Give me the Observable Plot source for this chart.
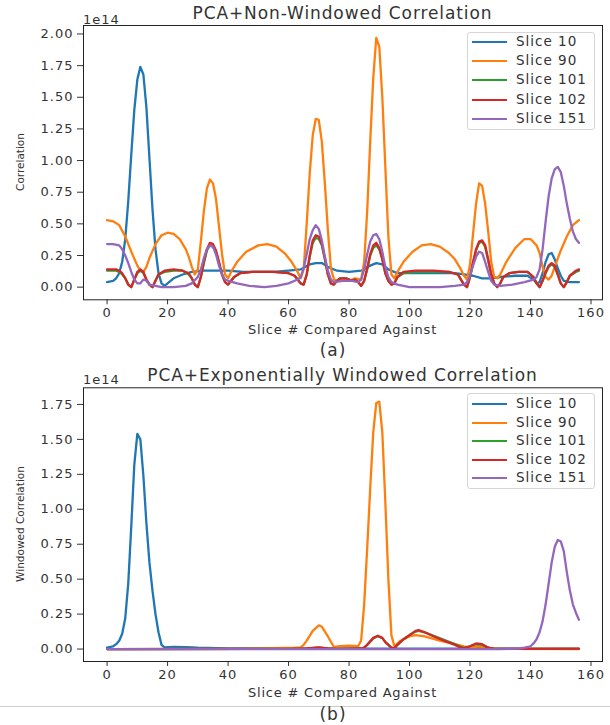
<!DOCTYPE html>
<html><head><meta charset="utf-8">
<script src="https://cdn.jsdelivr.net/npm/d3@7"></script>
<script src="https://cdn.jsdelivr.net/npm/@observablehq/plot@0.6"></script>
<style>
body{margin:0;background:#fff;font-family:"DejaVu Sans",sans-serif;}
#fig{position:relative;width:610px;height:725px;overflow:hidden;background:#fff}
#fig svg{position:absolute;left:0}
.t{position:absolute;white-space:nowrap;color:#333;line-height:1}
.leg{position:absolute;border:1px solid #d6d6d6;border-radius:3px;background:rgba(255,255,255,0.85);box-sizing:border-box}
.row{position:absolute;left:0;height:0}
.sw{position:absolute;left:4px;width:35px;height:2px;top:-1px}
.lt{position:absolute;left:48px;white-space:nowrap;color:#333;font-size:13.5px;letter-spacing:1px;transform:translateY(-50%);line-height:1}
</style></head><body><div id="fig"></div><script>
// ---- shared ----
const xTicks = [0, 20, 40, 60, 80, 100, 120, 140, 160];
const seriesNames = ["Slice 10", "Slice 90", "Slice 101", "Slice 102", "Slice 151"];
const seriesColors = ["#1f77b4", "#ff7f0e", "#2ca02c", "#d62728", "#9467bd"];
const topYTicks = [0, 0.25, 0.5, 0.75, 1.0, 1.25, 1.5, 1.75, 2.0];
const botYTicks = [0, 0.25, 0.5, 0.75, 1.0, 1.25, 1.5, 1.75];

// ---- (a) PCA+Non-Windowed Correlation (values x 1e14) ----
const topSlice10 = [[0,0.04],[2,0.05],[3,0.07],[4,0.11],[5,0.2],[6,0.38],[7,0.68],[8,1.05],[9,1.4],[10,1.64],[11,1.74],[12,1.68],[13,1.42],[14,1.02],[15,0.62],[16,0.3],[17,0.11],[18,0.03],[19,0.01],[20,0.03],[22,0.07],[25,0.1],[28,0.12],[32,0.13],[36,0.13],[40,0.13],[45,0.12],[50,0.12],[55,0.12],[60,0.13],[64,0.14],[67,0.18],[69,0.19],[71,0.19],[73,0.16],[76,0.13],[80,0.12],[84,0.13],[87,0.17],[89,0.19],[91,0.18],[93,0.14],[96,0.11],[100,0.11],[105,0.11],[110,0.11],[115,0.11],[118,0.1],[121,0.09],[124,0.07],[127,0.07],[130,0.08],[135,0.09],[139,0.09],[141,0.06],[142,0.03],[143,0.04],[144,0.11],[145,0.2],[146,0.26],[147,0.27],[148,0.22],[149,0.15],[150,0.09],[151,0.05],[153,0.04],[156,0.04]];
const topSlice90 = [[0,0.53],[2,0.52],[4,0.49],[6,0.4],[8,0.28],[10,0.17],[11,0.13],[12,0.12],[13,0.16],[14,0.23],[16,0.34],[18,0.41],[20,0.43],[22,0.42],[24,0.38],[26,0.3],[27,0.24],[28,0.16],[29,0.1],[30,0.14],[31,0.36],[32,0.6],[33,0.78],[34,0.85],[35,0.82],[36,0.7],[37,0.48],[38,0.26],[39,0.1],[40,0.07],[41,0.12],[43,0.2],[46,0.28],[50,0.33],[53,0.34],[56,0.32],[59,0.26],[61,0.2],[63,0.12],[64,0.07],[65,0.14],[66,0.5],[67,0.9],[68,1.2],[69,1.33],[70,1.32],[71,1.15],[72,0.82],[73,0.45],[74,0.15],[75,0.06],[76,0.05],[78,0.07],[80,0.05],[82,0.07],[84,0.06],[85,0.2],[86,0.6],[87,1.15],[88,1.65],[89,1.97],[90,1.9],[91,1.5],[92,0.95],[93,0.4],[94,0.1],[95,0.07],[96,0.12],[98,0.2],[101,0.28],[104,0.33],[107,0.34],[110,0.32],[113,0.27],[115,0.22],[117,0.14],[118,0.09],[119,0.06],[120,0.18],[121,0.42],[122,0.66],[123,0.82],[124,0.8],[125,0.66],[126,0.44],[127,0.2],[128,0.08],[129,0.07],[130,0.1],[132,0.2],[135,0.31],[138,0.38],[140,0.38],[142,0.33],[143,0.27],[144,0.16],[145,0.08],[146,0.06],[147,0.09],[148,0.16],[150,0.29],[152,0.4],[154,0.49],[156,0.53]];
const topSlice101 = [[0,0.13],[3,0.13],[4,0.12],[5,0.1],[6,0.07],[7,0.02],[8,0.0],[9,0.06],[10,0.11],[11,0.13],[12,0.11],[13,0.06],[14,0.02],[15,0.0],[16,0.05],[17,0.1],[19,0.12],[22,0.13],[25,0.13],[27,0.1],[28,0.07],[29,0.02],[30,0.0],[31,0.08],[32,0.19],[33,0.29],[34,0.33],[35,0.32],[36,0.28],[37,0.19],[38,0.1],[39,0.04],[40,0.02],[41,0.05],[42,0.08],[44,0.11],[48,0.12],[55,0.12],[60,0.11],[62,0.09],[63,0.06],[64,0.03],[65,0.02],[66,0.1],[67,0.24],[68,0.35],[69,0.39],[70,0.38],[71,0.33],[72,0.22],[73,0.1],[74,0.03],[75,0.02],[76,0.05],[77,0.07],[79,0.07],[81,0.05],[82,0.06],[83,0.04],[84,0.01],[85,0.05],[86,0.14],[87,0.25],[88,0.31],[89,0.33],[90,0.3],[91,0.22],[92,0.11],[93,0.05],[94,0.02],[95,0.03],[96,0.08],[98,0.11],[102,0.12],[108,0.12],[113,0.12],[116,0.1],[117,0.06],[118,0.02],[119,0.0],[120,0.08],[121,0.19],[122,0.29],[123,0.35],[124,0.36],[125,0.32],[126,0.21],[127,0.1],[128,0.03],[129,0.0],[130,0.03],[131,0.08],[133,0.11],[136,0.12],[139,0.12],[141,0.08],[142,0.03],[143,0.0],[144,0.05],[145,0.11],[146,0.16],[147,0.18],[148,0.16],[149,0.1],[150,0.03],[151,0.0],[152,0.04],[153,0.09],[155,0.12],[156,0.13]];
const topSlice102 = [[0,0.14],[3,0.14],[4,0.13],[5,0.11],[6,0.07],[7,0.02],[8,0.0],[9,0.06],[10,0.12],[11,0.14],[12,0.12],[13,0.06],[14,0.02],[15,0.0],[16,0.05],[17,0.1],[19,0.13],[22,0.14],[25,0.13],[27,0.11],[28,0.07],[29,0.02],[30,0.0],[31,0.08],[32,0.2],[33,0.3],[34,0.35],[35,0.34],[36,0.29],[37,0.2],[38,0.1],[39,0.04],[40,0.02],[41,0.05],[42,0.08],[44,0.11],[48,0.12],[55,0.12],[60,0.11],[62,0.09],[63,0.06],[64,0.03],[65,0.02],[66,0.1],[67,0.25],[68,0.37],[69,0.41],[70,0.4],[71,0.34],[72,0.23],[73,0.1],[74,0.03],[75,0.02],[76,0.05],[77,0.07],[79,0.07],[81,0.05],[82,0.06],[83,0.04],[84,0.01],[85,0.05],[86,0.15],[87,0.26],[88,0.33],[89,0.35],[90,0.31],[91,0.22],[92,0.11],[93,0.05],[94,0.02],[95,0.03],[96,0.08],[98,0.12],[102,0.13],[108,0.13],[113,0.12],[116,0.1],[117,0.06],[118,0.02],[119,0.0],[120,0.08],[121,0.2],[122,0.3],[123,0.36],[124,0.37],[125,0.33],[126,0.22],[127,0.1],[128,0.03],[129,0.0],[130,0.03],[131,0.08],[133,0.11],[136,0.12],[139,0.12],[141,0.08],[142,0.03],[143,0.0],[144,0.05],[145,0.12],[146,0.17],[147,0.19],[148,0.17],[149,0.1],[150,0.03],[151,0.0],[152,0.04],[153,0.09],[155,0.13],[156,0.14]];
const topSlice151 = [[0,0.34],[2,0.34],[4,0.33],[5,0.3],[6,0.25],[7,0.19],[8,0.12],[9,0.06],[10,0.03],[11,0.03],[12,0.06],[13,0.05],[14,0.02],[16,0.01],[18,0.0],[22,0.0],[26,0.01],[28,0.03],[30,0.08],[31,0.14],[32,0.23],[33,0.3],[34,0.33],[35,0.32],[36,0.26],[37,0.17],[38,0.1],[39,0.06],[40,0.05],[43,0.03],[47,0.01],[52,0.0],[56,0.01],[60,0.03],[63,0.06],[64,0.08],[65,0.15],[66,0.26],[67,0.38],[68,0.45],[69,0.49],[70,0.46],[71,0.37],[72,0.24],[73,0.13],[74,0.06],[75,0.04],[78,0.05],[81,0.05],[83,0.04],[84,0.06],[85,0.14],[86,0.26],[87,0.36],[88,0.41],[89,0.42],[90,0.38],[91,0.28],[92,0.16],[93,0.08],[94,0.04],[96,0.02],[98,0.01],[100,0.0],[110,0.0],[115,0.01],[118,0.02],[119,0.04],[120,0.09],[121,0.17],[122,0.24],[123,0.28],[124,0.27],[125,0.2],[126,0.12],[127,0.05],[128,0.02],[130,0.01],[134,0.02],[138,0.04],[141,0.06],[142,0.08],[143,0.14],[144,0.3],[145,0.52],[146,0.72],[147,0.86],[148,0.93],[149,0.95],[150,0.91],[151,0.8],[152,0.66],[153,0.54],[154,0.44],[155,0.38],[156,0.35]];

// ---- (b) PCA+Exponentially Windowed Correlation (values x 1e14) ----
const botSlice10 = [[0,0.01],[2,0.02],[3,0.035],[4,0.06],[5,0.11],[6,0.22],[7,0.47],[8,0.88],[9,1.32],[10,1.54],[11,1.5],[12,1.24],[13,0.9],[14,0.62],[15,0.42],[16,0.25],[17,0.12],[18,0.03],[19,0.012],[22,0.015],[26,0.014],[30,0.01],[40,0.005],[60,0.003],[100,0.003],[118,0.004],[122,0.01],[125,0.01],[128,0.003],[156,0.002]];
const botSlice90 = [[0,0.0],[45,0.002],[55,0.007],[62,0.01],[64,0.012],[65,0.03],[66,0.06],[68,0.13],[70,0.17],[71,0.16],[73,0.09],[75,0.015],[77,0.02],[80,0.025],[83,0.02],[84,0.06],[85,0.32],[86,0.72],[87,1.15],[88,1.55],[89,1.76],[90,1.77],[91,1.55],[92,1.05],[93,0.5],[94,0.1],[95,0.02],[97,0.06],[100,0.09],[102,0.1],[105,0.09],[110,0.06],[115,0.035],[118,0.02],[120,0.012],[123,0.02],[126,0.008],[130,0.002],[156,0.0]];
const botSlice101 = [[0,0.0],[60,0.002],[66,0.004],[70,0.01],[73,0.004],[76,0.002],[84,0.004],[85,0.01],[86,0.03],[88,0.075],[89.5,0.092],[91,0.078],[92,0.05],[94,0.01],[95,0.005],[96,0.03],[98,0.07],[100,0.1],[102,0.125],[103,0.13],[105,0.12],[108,0.095],[112,0.06],[115,0.035],[117,0.015],[118,0.008],[120,0.02],[122,0.035],[124,0.03],[126,0.01],[128,0.002],[156,0.002]];
const botSlice102 = [[0,0.0],[60,0.002],[66,0.005],[70,0.012],[73,0.005],[76,0.002],[84,0.004],[85,0.01],[86,0.03],[88,0.08],[89.5,0.095],[91,0.08],[92,0.05],[94,0.01],[95,0.005],[96,0.03],[98,0.07],[100,0.1],[102,0.13],[103,0.135],[105,0.12],[108,0.09],[112,0.055],[115,0.03],[117,0.01],[118,0.005],[120,0.02],[122,0.04],[124,0.035],[126,0.01],[128,0.002],[140,0.002],[156,0.003]];
const botSlice151 = [[0,0.0],[130,0.0],[136,0.004],[138,0.01],[140,0.02],[141,0.04],[142,0.07],[143,0.12],[144,0.2],[145,0.32],[146,0.47],[147,0.62],[148,0.73],[149,0.78],[150,0.77],[151,0.7],[152,0.55],[153,0.42],[154,0.32],[155,0.26],[156,0.21]];

const topSeries = [topSlice10, topSlice90, topSlice101, topSlice102, topSlice151];
const botSeries = [botSlice10, botSlice90, botSlice101, botSlice102, botSlice151];

const fig = document.getElementById("fig");

function panel(series, yDomain, yTicks, height, mt, mb) {
  return Plot.plot({
    width: 610, height, marginLeft: 83, marginRight: 8, marginTop: mt, marginBottom: mb,
    style: {fontFamily: "DejaVu Sans, sans-serif", fontSize: "13px", letterSpacing: "1px", color: "#333", background: "transparent", overflow: "visible"},
    x: {domain: [-7.8, 163.8], ticks: xTicks, tickSize: 5, tickPadding: 3, tickFormat: d => String(d), label: null},
    y: {domain: yDomain, ticks: yTicks, tickSize: 6, tickPadding: 4, tickFormat: d3.format(".2f"), label: null},
    marks: [
      ...series.map((s, i) => Plot.line(s, {x: d => d[0], y: d => d[1], stroke: seriesColors[i], strokeWidth: 2.3})),
      Plot.frame({stroke: "#222", strokeWidth: 1})
    ]
  });
}

const p1 = panel(topSeries, [-0.1, 2.067], topYTicks, 340, 25, 40.7);
p1.style.top = "0px";
fig.appendChild(p1);
const p2 = panel(botSeries, [-0.089, 1.869], botYTicks, 340, 27.3, 39);
p2.style.top = "360px";
fig.appendChild(p2);

function text(str, x, y, o = {}) {
  const d = document.createElement("div");
  d.className = "t";
  d.textContent = str;
  d.style.left = x + "px";
  d.style.top = y + "px";
  d.style.fontSize = (o.size || 13) + "px";
  d.style.letterSpacing = (o.ls == null ? 0 : o.ls) + "px";
  d.style.transform = o.tf || "translate(-50%,-50%)";
  if (o.color) d.style.color = o.color;
  fig.appendChild(d);
  return d;
}

// titles
text("PCA+Non-Windowed Correlation", 342.5, 12.7, {size: 17, ls: 0.9});
text("PCA+Exponentially Windowed Correlation", 342.5, 375, {size: 17, ls: 0.9});
// offset text
text("1e14", 83, 18.5, {size: 13, ls: 1, tf: "translate(0,-50%)"});
text("1e14", 83, 378.5, {size: 13, ls: 1, tf: "translate(0,-50%)"});
// axis labels
text("Slice # Compared Against", 342.5, 329.3, {size: 13, ls: 0.8});
text("Slice # Compared Against", 342.5, 691.7, {size: 13, ls: 0.8});
text("Correlation", 20, 162, {size: 10.5, tf: "translate(-50%,-50%) rotate(-90deg)"});
text("Windowed Correlation", 20, 524, {size: 10.5, tf: "translate(-50%,-50%) rotate(-90deg)"});
// captions
text("(a)", 333, 350, {size: 17, ls: 1});
const rule = document.createElement("div");
rule.style.cssText = "position:absolute;left:0;top:706px;width:610px;height:1px;background:#cfcfcf";
fig.appendChild(rule);
text("(b)", 333, 714, {size: 17, ls: 1});

// legends
function legend(left, top, width, height, rowTop, rowStep) {
  const box = document.createElement("div");
  box.className = "leg";
  box.style.left = left + "px"; box.style.top = top + "px";
  box.style.width = width + "px"; box.style.height = height + "px";
  seriesNames.forEach((name, i) => {
    const r = document.createElement("div");
    r.className = "row";
    r.style.top = Math.round(rowTop + i * rowStep - top - 1) + "px";
    const sw = document.createElement("div");
    sw.className = "sw"; sw.style.background = seriesColors[i];
    const lt = document.createElement("div");
    lt.className = "lt"; lt.textContent = name;
    r.appendChild(sw); r.appendChild(lt);
    box.appendChild(r);
  });
  fig.appendChild(box);
}
legend(467, 32, 128, 98, 42, 19.2);
legend(467, 393, 128, 96, 404, 18.5);
</script></body></html>
